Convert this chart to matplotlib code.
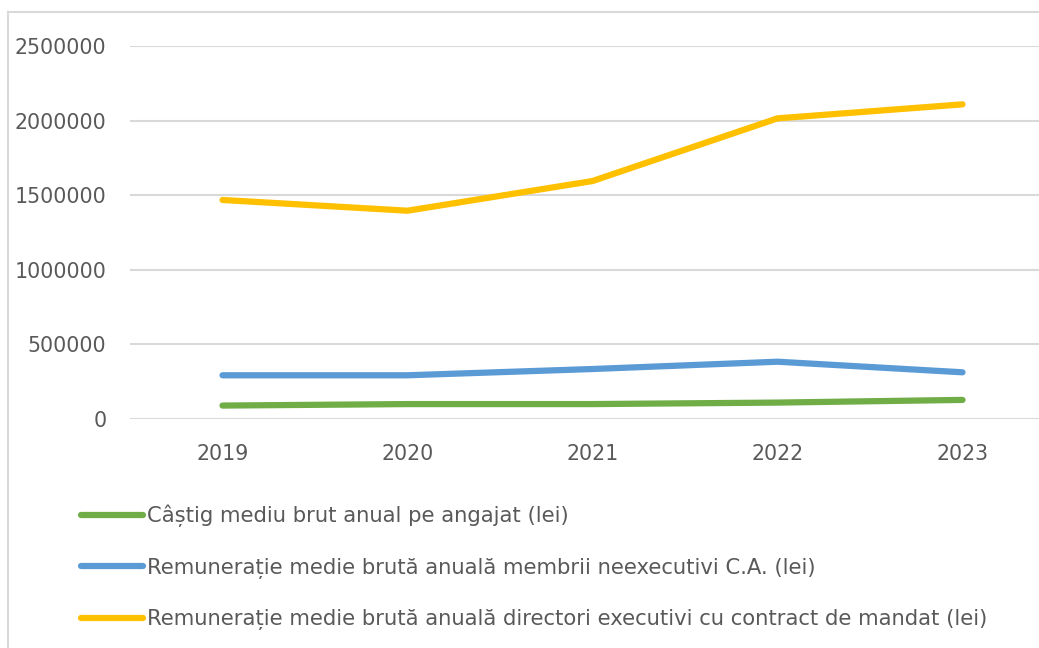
import matplotlib
matplotlib.use("Agg")
import matplotlib.pyplot as plt
from matplotlib.lines import Line2D

years = ["2019", "2020", "2021", "2022", "2023"]
castig_mediu = [90000, 100000, 100000, 110000, 128000]
remuneratie_neexecutivi = [293000, 293000, 335000, 384000, 313000]
remuneratie_directori = [1468000, 1396000, 1595000, 2015000, 2109000]
labels = [
    "Câștig mediu brut anual pe angajat (lei)",
    "Remunerație medie brută anuală membrii neexecutivi C.A. (lei)",
    "Remunerație medie brută anuală directori executivi cu contract de mandat (lei)",
]
colors = ["#70AD47", "#5B9BD5", "#FFC000"]
yticks = [0, 500000, 1000000, 1500000, 2000000, 2500000]

plt.rcParams['font.family'] = ['DejaVu Sans']
W, H = 1039, 648
fig = plt.figure(figsize=(W / 100, H / 100), dpi=100)
textc = "#595959"

left, right, top, bottom = 130, 1055, 46, 419
ax = fig.add_axes([left / W, 1 - bottom / H, (right - left) / W, (bottom - top) / H])

x = list(range(len(years)))
series = [castig_mediu, remuneratie_neexecutivi, remuneratie_directori]
for vals, c, lab in zip(series, colors, labels):
    ax.plot(x, vals, color=c, lw=4.5, solid_capstyle="round", solid_joinstyle="round",
            label=lab, zorder=3, clip_on=False)

ax.set_xlim(-0.5, len(years) - 0.5)
ax.set_ylim(0, 2500000)
ax.set_yticks(yticks)
ax.set_yticklabels([str(v) for v in yticks])
ax.set_xticks(x)
ax.set_xticklabels(years)
ax.grid(axis="y", color="#D9D9D9", lw=1.5, zorder=0)
for s in ax.spines.values():
    s.set_visible(False)
ax.tick_params(axis="both", length=0, labelsize=14.8, colors=textc)
ax.tick_params(axis="y", pad=17)
ax.tick_params(axis="x", pad=18)

# legend
handles = [Line2D([0], [0], color=c, lw=4.5, solid_capstyle="round") for c in colors]
leg = fig.legend(handles, labels, loc="upper left", bbox_to_anchor=(73 / W, 1 - 496 / H),
                 frameon=False, fontsize=15.2, labelcolor=textc, handlelength=2.9,
                 handletextpad=0.2, labelspacing=1.45, borderaxespad=0)

# chart border (top and left visible)
fig.add_artist(Line2D([8 / W, 8 / W], [0, 1 - 12 / H], color="#D9D9D9", lw=1.5, transform=fig.transFigure))
fig.add_artist(Line2D([8 / W, 1], [1 - 12 / H, 1 - 12 / H], color="#D9D9D9", lw=1.5, transform=fig.transFigure))

fig.savefig("out.png", dpi=100)
